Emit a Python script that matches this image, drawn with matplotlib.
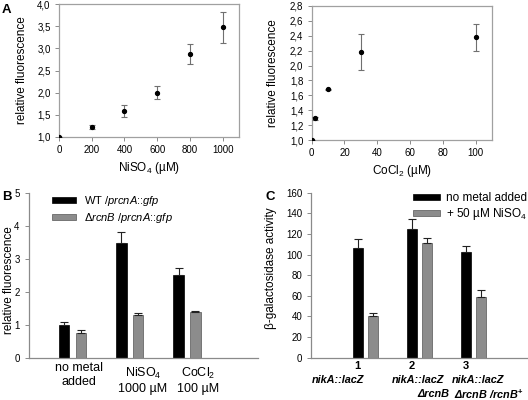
import matplotlib
matplotlib.use("Agg")
import matplotlib.pyplot as plt
import numpy as np

plt.rcParams['font.family'] = ['Liberation Sans', 'DejaVu Sans']
plt.rcParams['mathtext.fontset'] = 'custom'
plt.rcParams['mathtext.rm'] = 'Liberation Sans'
plt.rcParams['mathtext.it'] = 'Liberation Sans:italic'
plt.rcParams['mathtext.bf'] = 'Liberation Sans:bold'
plt.rcParams['mathtext.default'] = 'regular'

# panel A, left: NiSO4 dose response
ni_conc = [0, 200, 400, 600, 800, 1000]
ni_fluo = [1.0, 1.23, 1.58, 2.0, 2.87, 3.48]
ni_err = [0.0, 0.05, 0.135, 0.14, 0.22, 0.35]
ni_yticks = [1.0, 1.5, 2.0, 2.5, 3.0, 3.5, 4.0]
ni_ylabels = ["1,0", "1,5", "2,0", "2,5", "3,0", "3,5", "4,0"]
ni_xticks = [0, 200, 400, 600, 800, 1000]

# panel A, right: CoCl2 dose response
co_conc = [0, 2, 10, 30, 100]
co_fluo = [1.0, 1.29, 1.68, 2.18, 2.38]
co_err = [0.0, 0.025, 0.01, 0.245, 0.18]
co_yticks = [1.0, 1.2, 1.4, 1.6, 1.8, 2.0, 2.2, 2.4, 2.6, 2.8]
co_ylabels = ["1,0", "1,2", "1,4", "1,6", "1,8", "2,0", "2,2", "2,4", "2,6", "2,8"]
co_xticks = [0, 20, 40, 60, 80, 100]

# panel B
b_groups = ["no metal\nadded", "NiSO$_4$\n1000 µM", "CoCl$_2$\n100 µM"]
b_wt = [1.0, 3.48, 2.52]
b_wt_err = [0.1, 0.33, 0.22]
b_rcnb = [0.76, 1.3, 1.38]
b_rcnb_err = [0.08, 0.06, 0.04]
b_labels = [r"WT $\mathit{/prcnA\colon\colon gfp}$",
            r"Δ$\mathit{rcnB\ /prcnA\colon\colon gfp}$"]

# panel C
c_nums = ["1", "2", "3"]
c_line1 = ["nikA::lacZ", "nikA::lacZ", "nikA::lacZ"]
c_line2 = ["", "ΔrcnB", r"ΔrcnB /rcnB$^{\mathbf{+}}$"]
c_none = [106, 125, 102]
c_none_err = [9, 9.5, 6]
c_ni = [40, 111, 59]
c_ni_err = [3, 5.5, 6.5]
c_labels = ["no metal added", "+ 50 µM NiSO$_4$"]

BLACK = "#000000"
GRAY = "#8c8c8c"
SPINE = "#8a8a8a"

fig = plt.figure(figsize=(5.28, 4.0), dpi=100)

def scatter_panel(ax, x, y, err, yt, yl, xt, xlim, ylim, xlabel, xlx, ylx):
    ax.errorbar(x, y, yerr=err, fmt='o', color='black', ms=2.8,
                ecolor='#707070', elinewidth=0.8, capsize=2.5, capthick=0.8,
                zorder=3)
    ax.set_xlim(*xlim)
    ax.set_ylim(*ylim)
    ax.set_yticks(yt)
    ax.set_yticklabels(yl)
    ax.set_xticks(xt)
    ax.tick_params(labelsize=7, length=3, width=0.7, color=SPINE, pad=3)
    for s in ax.spines.values():
        s.set_color("#a0a0a0")
        s.set_linewidth(0.9)
    ax.set_xlabel(xlabel, fontsize=8.5)
    ax.xaxis.set_label_coords(0.5, xlx)
    ax.set_ylabel("relative fluorescence", fontsize=8.5)
    ax.yaxis.set_label_coords(ylx, 0.5)

axA1 = fig.add_axes([0.1117, 0.6575, 0.3409, 0.3325])
scatter_panel(axA1, ni_conc, ni_fluo, ni_err, ni_yticks, ni_ylabels, ni_xticks,
              (0, 1100), (1.0, 4.0), "NiSO$_4$ (µM)", -0.17, -0.17)

axA2 = fig.add_axes([0.5903, 0.65, 0.3415, 0.335])
scatter_panel(axA2, co_conc, co_fluo, co_err, co_yticks, co_ylabels, co_xticks,
              (0, 110), (1.0, 2.8), "CoCl$_2$ (µM)", -0.17, -0.18)

# panel B
axB = fig.add_axes([0.0555, 0.105, 0.4331, 0.4125])
xb = np.arange(len(b_groups))
w = 0.183
off = 0.148
axB.bar(xb - off, b_wt, w, color=BLACK, edgecolor=BLACK, lw=0.5,
        label=b_labels[0], zorder=2)
axB.bar(xb + off, b_rcnb, w, color=GRAY, edgecolor="#555555", lw=0.5,
        label=b_labels[1], zorder=2)
axB.errorbar(xb - off, b_wt, yerr=[np.zeros(3), b_wt_err], fmt='none',
             ecolor='#222222', elinewidth=0.8, capsize=3, capthick=0.8)
axB.errorbar(xb + off, b_rcnb, yerr=[np.zeros(3), b_rcnb_err], fmt='none',
             ecolor='#222222', elinewidth=0.8, capsize=3, capthick=0.8)
axB.set_xlim(-0.755, 3.24)
axB.set_ylim(0, 5)
axB.set_yticks(range(6))
axB.set_xticks([])
axB.tick_params(labelsize=7, length=3, width=0.7, color=SPINE, pad=4)
for k in ["top", "right"]:
    axB.spines[k].set_visible(False)
for k in ["left", "bottom"]:
    axB.spines[k].set_color(SPINE)
    axB.spines[k].set_linewidth(0.9)
axB.set_ylabel("relative fluorescence", fontsize=8.5)
axB.yaxis.set_label_coords(-0.0625, 0.47)
b_lab_x = [0.11, 1.23, 2.19]
b_lab_y = [-0.025, -0.05, -0.05]
for i, g in enumerate(b_groups):
    axB.text(b_lab_x[i], b_lab_y[i], g, transform=axB.get_xaxis_transform(),
             ha='center', va='top', fontsize=9, linespacing=1.2)
axB.legend(loc='upper left', bbox_to_anchor=(0.099, 0.995), frameon=False,
           fontsize=8, handlelength=2.2, handleheight=0.42, handletextpad=0.65,
           labelspacing=0.3, borderpad=0, borderaxespad=0)

# panel C
axC = fig.add_axes([0.5884, 0.1058, 0.4097, 0.4125])
xc = np.arange(len(c_nums))
w = 0.185
off = 0.139
axC.bar(xc - off, c_none, w, color=BLACK, edgecolor=BLACK, lw=0.5,
        label=c_labels[0], zorder=2)
axC.bar(xc + off, c_ni, w, color=GRAY, edgecolor="#555555", lw=0.5,
        label=c_labels[1], zorder=2)
axC.errorbar(xc - off, c_none, yerr=[np.zeros(3), c_none_err], fmt='none',
             ecolor='#222222', elinewidth=0.8, capsize=3, capthick=0.8)
axC.errorbar(xc + off, c_ni, yerr=[np.zeros(3), c_ni_err], fmt='none',
             ecolor='#222222', elinewidth=0.8, capsize=3, capthick=0.8)
axC.set_xlim(-1.01, 2.99)
axC.set_ylim(0, 160)
axC.set_yticks(range(0, 161, 20))
axC.set_xticks([])
axC.tick_params(labelsize=7, length=3, width=0.7, color=SPINE, pad=3)
for k in ["top", "right"]:
    axC.spines[k].set_visible(False)
for k in ["left", "bottom"]:
    axC.spines[k].set_color(SPINE)
    axC.spines[k].set_linewidth(0.9)
axC.set_ylabel("β-galactosidase activity", fontsize=8.5)
axC.yaxis.set_label_coords(-0.156, 0.54)
tr = axC.get_xaxis_transform()
l1_dx = [-0.51, -0.02, 0.08]
l2_dx = [0.0, 0.25, 0.29]
for i in range(len(c_nums)):
    axC.text(xc[i] - 0.14, -0.05, c_nums[i], transform=tr, ha='center',
             va='center', fontsize=8, fontweight='bold')
    axC.text(xc[i] + l1_dx[i], -0.135, c_line1[i], transform=tr, ha='center',
             va='center', fontsize=7.8, fontweight='bold', style='italic')
    if c_line2[i]:
        axC.text(xc[i] + l2_dx[i], -0.222, c_line2[i], transform=tr,
                 ha='center', va='center', fontsize=7.8, fontweight='bold',
                 style='italic')
axC.legend(loc='upper left', bbox_to_anchor=(0.473, 1.005), frameon=False,
           fontsize=8.5, handlelength=2.3, handleheight=0.42, handletextpad=0.5,
           labelspacing=0.2, borderpad=0, borderaxespad=0)

# panel letters
fig.text(0.004, 0.99, "A", fontsize=9.5, fontweight='bold', va='top')
fig.text(0.004, 0.522, "B", fontsize=9.5, fontweight='bold', va='top')
fig.text(0.502, 0.522, "C", fontsize=9.5, fontweight='bold', va='top')

fig.savefig("out.png", dpi=100)
